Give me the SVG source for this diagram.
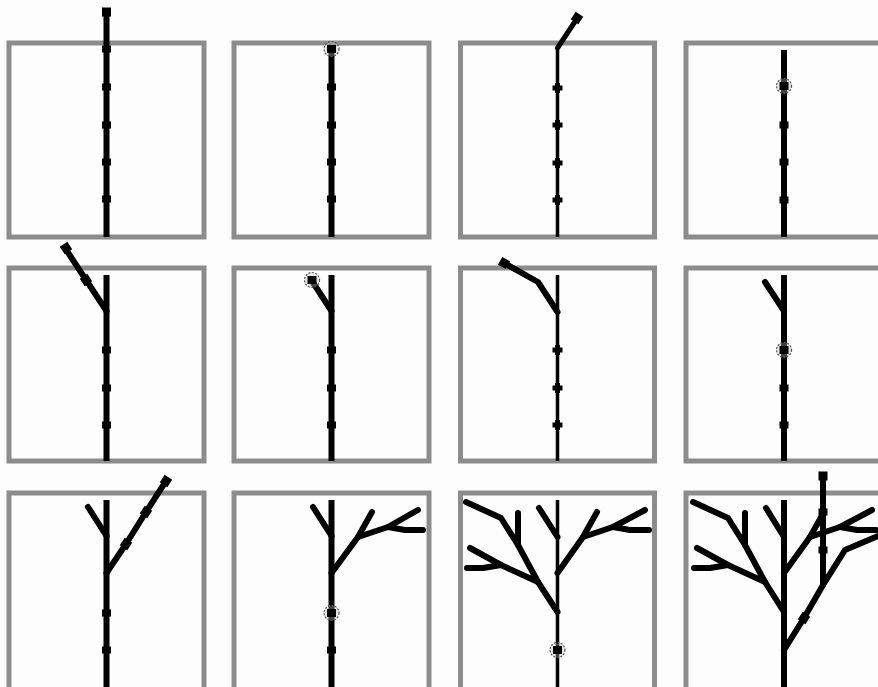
<svg xmlns="http://www.w3.org/2000/svg" xmlns:xlink="http://www.w3.org/1999/xlink" width="878" height="687" viewBox="0 0 878 687">
<style>
.bg{fill:#fcfdfc}
.box{fill:none;stroke:#8c8c8c;stroke-width:5}
.tr{fill:none;stroke:#000;stroke-width:6}
.tt{fill:none;stroke:#000;stroke-width:3.5}
.br{fill:none;stroke:#000;stroke-width:6;stroke-linejoin:round;stroke-linecap:round}
.nd{fill:#000}
.ring{fill:#bbb;fill-opacity:0.35;stroke:#555;stroke-width:1.2;stroke-dasharray:2 1.5}
</style>
<defs>
<rect id="nd" class="nd" x="-4.5" y="-3.5" width="9" height="7"/>
<path id="st" class="nd" d="M-5,-2.5 L-2.5,-2.5 L-2.5,-5 L2.5,-5 L2.5,-2.5 L5,-2.5 L5,2.5 L2.5,2.5 L2.5,5 L-2.5,5 L-2.5,2.5 L-5,2.5 Z"/>
<g id="cur"><circle class="ring" r="7.5"/><rect class="nd" x="-4.5" y="-4" width="9" height="8"/></g>
<rect id="tip" class="nd" x="-4.5" y="-4.5" width="9" height="9"/>
</defs>
<rect class="bg" x="0" y="0" width="878" height="687"/>

<g id="panel1">
<rect class="box" x="9" y="43" width="195" height="194"/>
<line class="tr" x1="106.5" y1="237" x2="106.5" y2="12"/>
<use xlink:href="#tip" x="106.5" y="12"/>
<use xlink:href="#nd" x="106.5" y="49"/><use xlink:href="#nd" x="106.5" y="87"/><use xlink:href="#nd" x="106.5" y="125"/><use xlink:href="#nd" x="106.5" y="162"/><use xlink:href="#nd" x="106.5" y="199"/>
</g>

<g id="panel2">
<rect class="box" x="234" y="43" width="195" height="194"/>
<line class="tr" x1="331.5" y1="237" x2="331.5" y2="49"/>
<use xlink:href="#cur" x="331.5" y="49"/>
<use xlink:href="#nd" x="331.5" y="87"/><use xlink:href="#nd" x="331.5" y="125"/><use xlink:href="#nd" x="331.5" y="162"/><use xlink:href="#nd" x="331.5" y="199"/>
</g>

<g id="panel3">
<rect class="box" x="460.5" y="43" width="194" height="194"/>
<line class="tt" x1="557.5" y1="237" x2="557.5" y2="48"/>
<path class="br" style="stroke-width:5" d="M557.5,48 L578,17"/>
<use xlink:href="#tip" transform="translate(577,18) rotate(-57)"/>
<use xlink:href="#st" x="557.5" y="88"/><use xlink:href="#st" x="557.5" y="125"/><use xlink:href="#st" x="557.5" y="163"/><use xlink:href="#st" x="557.5" y="200"/>
</g>

<g id="panel4">
<rect class="box" x="686" y="43" width="195" height="194"/>
<line class="tr" x1="784" y1="237" x2="784" y2="50"/>
<use xlink:href="#cur" x="784" y="86"/>
<use xlink:href="#nd" x="784" y="125"/><use xlink:href="#nd" x="784" y="162"/><use xlink:href="#nd" x="784" y="200"/>
</g>

<g id="panel5">
<rect class="box" x="9" y="268" width="195" height="193"/>
<line class="tr" x1="106.5" y1="461" x2="106.5" y2="275"/>
<path class="br" d="M106.5,311 L65,248"/>
<use xlink:href="#tip" transform="translate(66,248) rotate(-33)"/>
<use xlink:href="#tip" transform="translate(86,280) rotate(-33)"/>
<use xlink:href="#nd" x="106.5" y="350"/><use xlink:href="#nd" x="106.5" y="388"/><use xlink:href="#nd" x="106.5" y="425"/>
</g>

<g id="panel6">
<rect class="box" x="234" y="268" width="195" height="193"/>
<line class="tr" x1="331.5" y1="461" x2="331.5" y2="275"/>
<path class="br" d="M331.5,311 L312,281"/>
<use xlink:href="#cur" x="312" y="280"/>
<use xlink:href="#nd" x="331.5" y="350"/><use xlink:href="#nd" x="331.5" y="388"/><use xlink:href="#nd" x="331.5" y="425"/>
</g>

<g id="panel7">
<rect class="box" x="460.5" y="268" width="194" height="193"/>
<line class="tt" x1="557.5" y1="461" x2="557.5" y2="275"/>
<path class="br" d="M557.5,312 L538,282 L504,263"/>
<use xlink:href="#tip" transform="translate(504,263) rotate(-61)"/>
<use xlink:href="#st" x="557.5" y="350"/><use xlink:href="#st" x="557.5" y="388"/><use xlink:href="#st" x="557.5" y="425"/>
</g>

<g id="panel8">
<rect class="box" x="686" y="268" width="195" height="193"/>
<line class="tr" x1="784" y1="461" x2="784" y2="275"/>
<path class="br" d="M784,311 L765,282"/>
<use xlink:href="#cur" x="784" y="350"/>
<use xlink:href="#nd" x="784" y="388"/><use xlink:href="#nd" x="784" y="425"/>
</g>

<g id="panel9">
<rect class="box" x="9" y="493" width="195" height="200"/>
<line class="tr" x1="106.5" y1="690" x2="106.5" y2="500"/>
<path class="br" d="M106.5,536 L88,507"/>
<path class="br" d="M106.5,573 L126,544 L146,512 L166,481"/>
<use xlink:href="#tip" transform="translate(166,481) rotate(33)"/>
<use xlink:href="#tip" transform="translate(146,512) rotate(33)"/>
<use xlink:href="#tip" transform="translate(126,544) rotate(33)"/>
<use xlink:href="#nd" x="106.5" y="613"/><use xlink:href="#nd" x="106.5" y="650"/>
</g>

<g id="panel10">
<rect class="box" x="234" y="493" width="195" height="200"/>
<line class="tr" x1="331.5" y1="690" x2="331.5" y2="500"/>
<path class="br" d="M331.5,536 L313,507"/>
<path class="br" d="M331.5,573 L358,537 L388,527 L418,510"/>
<path class="br" d="M358,537 L372,512"/>
<path class="br" d="M388,527 L405,530 L423,530"/>
<use xlink:href="#cur" x="331.5" y="613"/>
<use xlink:href="#nd" x="331.5" y="650"/>
</g>

<g id="panel11">
<rect class="box" x="460.5" y="493" width="194" height="200"/>
<line class="tt" x1="557.5" y1="690" x2="557.5" y2="500"/>
<path class="br" d="M557.5,537 L539,508"/>
<path class="br" d="M557.5,573 L583,537 L613,527 L645,510"/>
<path class="br" d="M583,537 L597,512"/>
<path class="br" d="M613,527 L630,530 L649,530"/>
<path class="br" d="M557.5,612 L538,582 L518,545 L501,518 L466,502"/>
<path class="br" d="M518,545 L518,513"/>
<path class="br" d="M538,582 L501,565 L470,548"/>
<path class="br" d="M501,565 L483,568 L467,568"/>
<use xlink:href="#cur" x="557.5" y="650"/>
</g>

<g id="panel12">
<rect class="box" x="686" y="493" width="195" height="200"/>
<line class="tr" x1="784" y1="690" x2="784" y2="500"/>
<path class="br" d="M784,537 L766,508"/>
<path class="br" d="M784,573 L810,537 L840,527 L872,510"/>
<path class="br" d="M810,537 L824,512"/>
<path class="br" d="M840,527 L857,530 L876,530"/>
<path class="br" d="M784,612 L765,582 L745,545 L728,518 L693,502"/>
<path class="br" d="M745,545 L745,513"/>
<path class="br" d="M765,582 L728,565 L697,548"/>
<path class="br" d="M728,565 L710,568 L694,568"/>
<path class="br" d="M784,650 L804,618 L823,585 L845,550 L878,536"/>
<path class="br" d="M823,585 L823,476"/>
<use xlink:href="#tip" transform="translate(804,618) rotate(33)"/>
<use xlink:href="#nd" x="823" y="550"/><use xlink:href="#nd" x="823" y="512"/>
<use xlink:href="#tip" x="823" y="476"/>
</g>
</svg>
